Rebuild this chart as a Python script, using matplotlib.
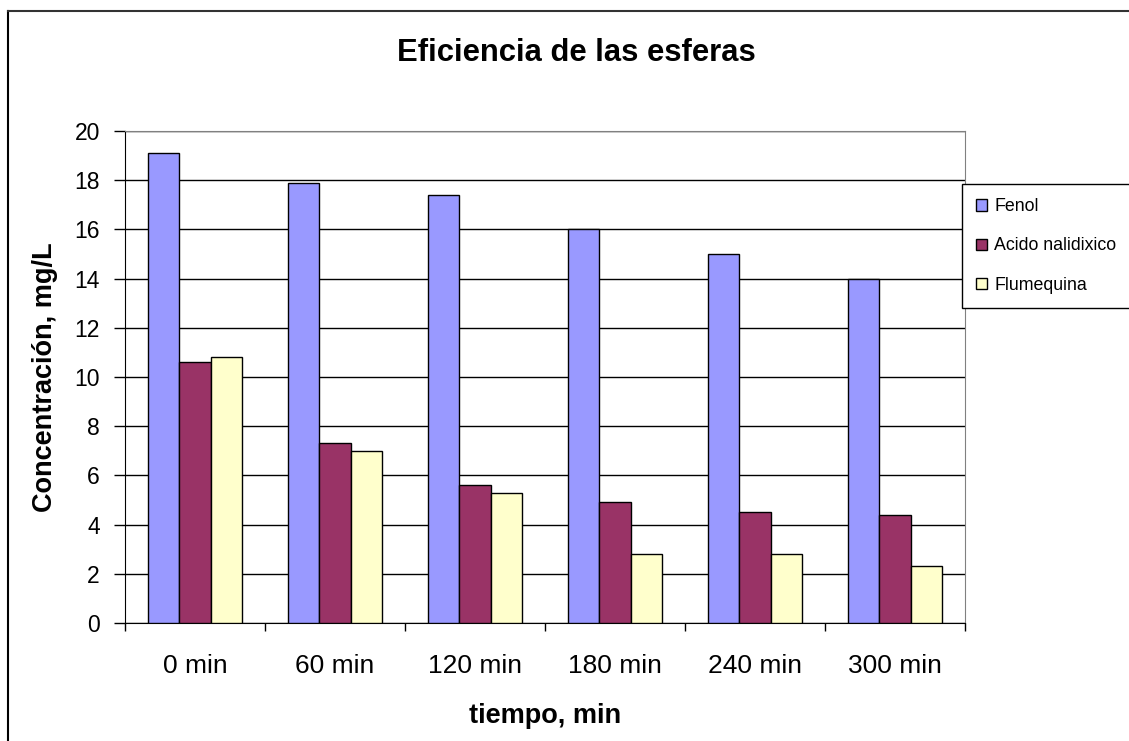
import numpy as np
import matplotlib.pyplot as plt
from matplotlib.lines import Line2D

categorias = ['0 min', '60 min', '120 min', '180 min', '240 min', '300 min']
fenol = [19.1, 17.9, 17.4, 16.0, 15.0, 14.0]
acido = [10.6, 7.3, 5.6, 4.9, 4.5, 4.4]
flumequina = [10.8, 7.0, 5.3, 2.8, 2.8, 2.3]
series = ['Fenol', 'Acido nalidixico', 'Flumequina']
colores = ['#9999FF', '#993366', '#FFFFCC']

plt.rcParams['font.family'] = ['Liberation Sans', 'DejaVu Sans']

W, H = 1129, 741
fig = plt.figure(figsize=(W / 100, H / 100), dpi=100)
# plot area in pixels: x 125..965, y 131..623
ax = fig.add_axes([125 / W, 1 - 623 / H, 840 / W, 492 / H])

x = np.arange(len(categorias))
w = 1 / 4.5
for i, (nombre, datos) in enumerate(zip(series, [fenol, acido, flumequina])):
    ax.bar(x + (i - 1) * w, datos, w, color=colores[i], edgecolor='black',
           linewidth=1, label=nombre, zorder=3)

ax.set_xlim(-0.5, len(categorias) - 0.5)
ax.set_ylim(0, 20)
ax.set_yticks(range(0, 21, 2))
ax.yaxis.grid(True, color='black', linewidth=1, zorder=0)
ax.set_xticks(x)
ax.set_xticklabels(categorias, fontsize=19)
ax.set_xticks(np.arange(-0.5, len(categorias)), minor=True)
ax.tick_params(axis='x', which='major', length=0, pad=22)
ax.tick_params(axis='x', which='minor', length=6, width=1, color='black')
ax.tick_params(axis='y', length=8, width=1, labelsize=16.5, pad=10)

for lado in ['top', 'right']:
    ax.spines[lado].set_color('#808080')
ax.spines['left'].set_color('black')
ax.spines['bottom'].set_color('black')

fig.text(576 / W, 1 - 53 / H, 'Eficiencia de las esferas', fontsize=22.3,
         fontweight='bold', ha='center', va='center')
ax.set_xlabel('tiempo, min', fontsize=19.5, fontweight='bold')
ax.set_ylabel('Concentración, mg/L', fontsize=19.5, fontweight='bold')
ax.xaxis.set_label_coords(0.5, (623 - 703) / 492)
ax.yaxis.set_label_coords((58 - 125) / 840, 0.5)

leg = ax.legend(loc='upper left', bbox_to_anchor=(962 / W, 1 - 184 / H),
                bbox_transform=fig.transFigure, fontsize=12.8,
                frameon=True, fancybox=False, edgecolor='black', framealpha=1,
                handlelength=0.6, handleheight=0.6, labelspacing=1.25,
                borderpad=0.8, handletextpad=0.4, borderaxespad=0)
leg.get_frame().set_linewidth(1)

# chart border (left and top visible in the reference)
fig.add_artist(Line2D([8 / W, 8 / W], [0, 1 - 11 / H], transform=fig.transFigure,
                      color='black', linewidth=1.5))
fig.add_artist(Line2D([8 / W, 1], [1 - 11 / H, 1 - 11 / H], transform=fig.transFigure,
                      color='#333333', linewidth=1.5))

fig.savefig('out.png', dpi=100)
